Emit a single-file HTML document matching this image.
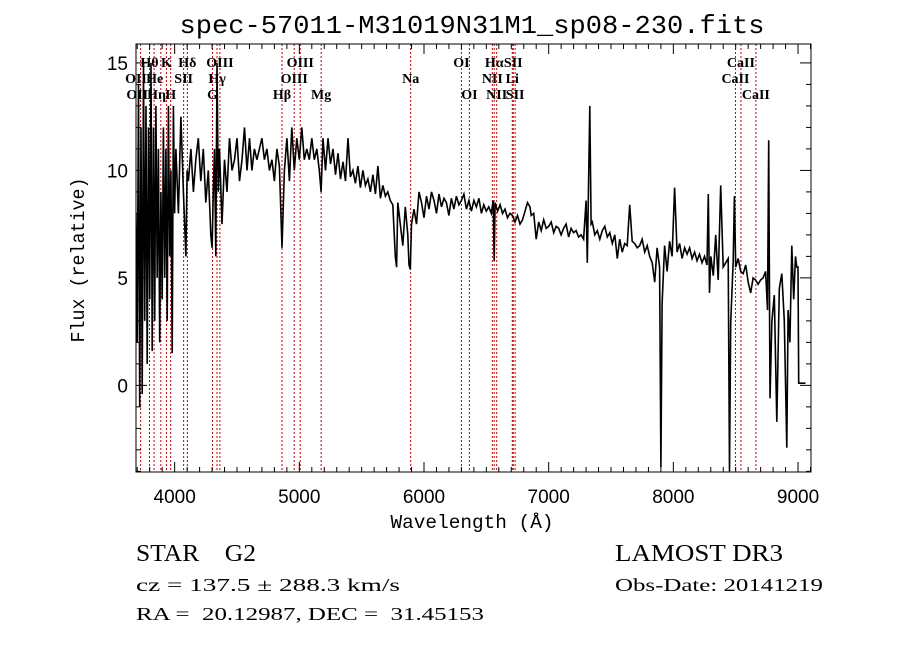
<!DOCTYPE html>
<html><head><meta charset="utf-8"><title>spectrum</title>
<style>
html,body{margin:0;padding:0;background:#fff;}
svg{display:block;}
.pre{white-space:pre;}
</style></head>
<body>
<svg id="chart" width="900" height="649" viewBox="0 0 900 649" xmlns="http://www.w3.org/2000/svg">
<rect x="0" y="0" width="900" height="649" fill="#fff"/>
<text x="472" y="33" text-anchor="middle" font-family="Liberation Mono, monospace" font-size="26" textLength="585" lengthAdjust="spacingAndGlyphs">spec-57011-M31019N31M1_sp08-230.fits</text>
<g id="lines"></g>
<g id="labels"></g>
<g id="spec"></g>
<g id="axes"></g>
<text x="472" y="528" text-anchor="middle" font-family="Liberation Mono, monospace" font-size="19" textLength="163" lengthAdjust="spacingAndGlyphs">Wavelength (Å)</text>
<text transform="translate(84,260) rotate(-90)" text-anchor="middle" font-family="Liberation Mono, monospace" font-size="19" textLength="165" lengthAdjust="spacingAndGlyphs">Flux (relative)</text>
<text class="pre" xml:space="preserve" x="136" y="561" font-family="Liberation Serif, serif" font-size="24" textLength="120" lengthAdjust="spacingAndGlyphs">STAR    G2</text>
<text class="pre" xml:space="preserve" x="136" y="591" font-family="Liberation Serif, serif" font-size="18" textLength="264" lengthAdjust="spacingAndGlyphs">cz = 137.5 ± 288.3 km/s</text>
<text class="pre" xml:space="preserve" x="136" y="620" font-family="Liberation Serif, serif" font-size="18" textLength="348" lengthAdjust="spacingAndGlyphs">RA =  20.12987, DEC =  31.45153</text>
<text x="615" y="561" font-family="Liberation Serif, serif" font-size="24" textLength="168" lengthAdjust="spacingAndGlyphs">LAMOST DR3</text>
<text x="615" y="591" font-family="Liberation Serif, serif" font-size="18" textLength="208" lengthAdjust="spacingAndGlyphs">Obs-Date: 20141219</text>
</svg>
<script>
const waves = [3690,3700,3710,3720,3730,3740,3750,3760,3770,3780,3790,3800,3810,3820,3830,3840,3850,3860,3870,3880,3890,3900,3910,3920,3930,3940,3950,3960,3970,3980,3990,4000,
4010,4030,4050,4070,4090,4100,4110,4130,4150,4170,4190,4210,4230,4250,4270,4290,4300,4310,4320,4330,4340,4350,4360,4380,4400,4420,4440,4460,4480,4500,4520,4540,4560,4580,4600,4620,4640,4660,4680,4700,4720,4740,4760,4780,4800,4820,4840,4861,4880,4900,4920,4940,4960,4980,5000,5020,5040,5060,5080,5100,5120,5140,5160,5175,5190,5210,5230,5250,5270,5290,5310,5330,5350,5370,5390,5410,5430,5450,5470,5490,5510,5530,5550,5570,5590,5610,5630,5650,5670,5690,5710,5730,5750,5770,5780,5790,5810,5830,5850,5870,5880,5890,5900,5920,5940,5960,5980,6000,6020,6040,6060,6080,6100,6120,6140,6160,6180,6200,6220,6240,6260,6280,6300,6320,6340,6360,6380,6400,6420,6440,6460,6480,6500,6520,6540,6555,6563,6570,6590,6610,6630,6650,6670,6690,6710,6730,6750,6770,6790,6810,6830,6850,6860,6880,6900,6920,6940,6960,6980,7000,7020,7040,7060,7080,7100,7120,7140,7160,7180,7200,7220,7240,7260,7280,7300,7310,7320,7330,7340,7350,7370,7390,7410,7430,7450,7470,7490,7510,7530,7550,7570,7590,7610,7630,7650,7670,7690,7710,7730,7750,7770,7790,7810,7830,7850,7870,7890,7900,7910,7930,7950,7970,7990,8010,8030,8050,8070,8090,8110,8130,8150,8170,8190,8210,8230,8250,8270,8280,8290,8300,8320,8340,8360,8380,8400,8420,8440,8450,8460,8480,8490,8500,8520,8540,8560,8580,8600,8620,8640,8660,8680,8700,8720,8740,8755,8765,8775,8790,8810,8830,8850,8870,8890,8910,8920,8935,8950,8965,8980,8990,9000,9005,9060];
const flux = [8,2,14,-1,12,-0.4,15,3,13,1,12,4,15,1.6,12,3,13,5,11,2,9,4,12,5,11,3,13,6,10,1.5,13,8,
11,8,12.5,9,6,10,9.5,11,9,10.5,11.5,9.5,11,8.5,10,7,6.4,9,11,6,15,9,11,7.5,10.5,9,11.5,10,10.5,11.5,9.5,10.5,12,10,11.5,10,11,10.5,11,11.5,10.5,11,10,10.5,9.5,11,10.2,6.4,10,11.5,9.5,12,10,11.5,10.5,12,10.5,11,10.5,11.5,10.5,11,10,9,11.5,10,11.5,10.3,11,9.8,10.8,9.6,10.4,9.5,11.5,9.7,10,9.4,10.2,9.2,10,9.3,9.6,9,9.8,8.9,10.2,8.7,9.3,8.8,9,8.6,8.4,6,5.5,8.5,7.5,6.5,8.3,7,5.6,5.4,7.5,8.2,7.5,9,8.5,7.8,8.8,8.2,9,8.6,8,8.9,8.3,8.7,8.5,7.9,8.7,8.2,8.8,8.4,8.6,8.9,8.2,8.6,8.1,8.6,8.3,8.7,8,8.4,8.1,8.3,8,8.6,5.8,8.5,8.1,8.4,8,8.2,7.8,8,7.9,7.6,7.9,7.5,7.7,8.1,8.5,8.3,7.9,8,6.8,7.6,7.2,7.7,7.3,7.4,7.6,7.1,7.4,7.3,7,7.3,7.5,6.9,7.3,7.1,7.2,6.9,7,6.8,8.6,5.7,9.5,13,7.5,7.6,7,7.2,6.8,7.2,7.4,6.9,7.1,6.6,7,5.9,6.8,6.2,6.6,6.5,8.4,6.7,6.6,6.4,6.5,6.8,6.2,6.5,6,5.7,4.8,6.4,5.5,-3.8,3.8,6.5,5.3,6.7,6,9.2,6.2,6.6,5.9,6.4,6.1,6.4,5.9,6.2,5.8,6.1,5.7,6,5.6,8.9,4.3,6,5.1,7,4.9,9.3,5.5,5.7,5.9,-4,2.9,5.8,8.8,5.5,5.9,5.3,5.2,5.6,4.8,4.3,5,4.9,4.7,4.9,5,5.3,3.5,11.4,-0.6,3,4.2,-1.7,4.5,5.2,3,-2.9,3.5,2,6.5,4,6,5.5,5.5,0.1,0.1];
const lineWaves = [3727,3798,3835,3889,3934,3968,4072,4102,4304,4340,4363,4861,4959,5007,5175,5893,6300,6364,6548,6563,6583,6708,6716,6731,8498,8542,8662];
const labelText = ["Hθ","K","Hδ","OIII","OIII","OI","Hα","SII","CaII","OII","He","SII","Hγ","OIII","Na","NII","Li","CaII","OII","Hη","H","G","Hβ","Mg","OI","NII","SII","CaII"];
const labelWave = [3798,3934,4102,4363,5007,6300,6563,6716,8542,3690,3840,4072,4340,4959,5893,6548,6708,8498,3700,3855,3968,4304,4861,5175,6364,6583,6731,8662];
const labelRow = [0,0,0,0,0,0,0,0,0,1,1,1,1,1,1,1,1,1,2,2,2,2,2,2,2,2,2,2];
const xTicks = [4000,5000,6000,7000,8000,9000];
const yTicks = [0,5,10,15];

const NS="http://www.w3.org/2000/svg";
const PL=136,PR=811,PT=44,PB=472;
const xMin=3690,xMax=9104,yMin=-4.03,yMax=15.88;
function X(w){return PL+(w-xMin)/(xMax-xMin)*(PR-PL);}
function Y(f){return PB-(f-yMin)/(yMax-yMin)*(PB-PT);}
function mk(tag,attrs,parent){const e=document.createElementNS(NS,tag);for(const k in attrs)e.setAttribute(k,attrs[k]);parent.appendChild(e);return e;}

const gl=document.getElementById('lines');
lineWaves.forEach(w=>{
  const l=mk('line',{x1:X(w),x2:X(w),y1:PT,y2:PB,stroke:'#c00000','stroke-width':1,'stroke-dasharray':'2,2'},gl);
  
  
});
const glb=document.getElementById('labels');
const rowY=[67,83,99];
labelText.forEach((t,i)=>{
  const e=mk('text',{x:X(labelWave[i]),y:rowY[labelRow[i]],'text-anchor':'middle','font-family':'Liberation Serif, serif','font-size':14,'font-weight':'bold'},glb);
  e.textContent=t;
  
  
});

const gs=document.getElementById('spec');
let d='';
waves.forEach((w,i)=>{
  const fx=Math.max(yMin,Math.min(yMax,flux[i]));
  d+=(i?'L':'M')+X(w).toFixed(1)+' '+Y(fx).toFixed(1);
});
const cp=mk('clipPath',{id:'clip'},gs);
mk('rect',{x:PL,y:PT,width:PR-PL,height:PB-PT},cp);
const p=mk('path',{d:d,fill:'none',stroke:'#000','stroke-width':1.6,'clip-path':'url(#clip)'},gs);



const ga=document.getElementById('axes');
const fr=mk('rect',{x:PL,y:PT,width:PR-PL,height:PB-PT,fill:'none',stroke:'#000','stroke-width':1},ga);


for(let w=3700;w<=9100;w+=100){
  const major=(w%1000===0);const len=major?10:5;
  mk('line',{x1:X(w),x2:X(w),y1:PB,y2:PB-len,stroke:'#000'},ga);
  mk('line',{x1:X(w),x2:X(w),y1:PT,y2:PT+len,stroke:'#000'},ga);
}
xTicks.forEach(w=>{
  const t=mk('text',{x:X(w),y:503,'text-anchor':'middle','font-family':'Liberation Sans, sans-serif','font-size':19},ga);
  t.textContent=String(w);
  
  
});
for(let f=-4;f<=15;f++){
  const major=(f%5===0);const len=major?11:5;
  mk('line',{x1:PL,x2:PL+len,y1:Y(f),y2:Y(f),stroke:'#000'},ga);
  mk('line',{x1:PR,x2:PR-len,y1:Y(f),y2:Y(f),stroke:'#000'},ga);
}
yTicks.forEach(f=>{
  const t=mk('text',{x:128,y:Y(f)+7,'text-anchor':'end','font-family':'Liberation Sans, sans-serif','font-size':19},ga);
  t.textContent=String(f);
  
  
});
</script>
</body></html>
